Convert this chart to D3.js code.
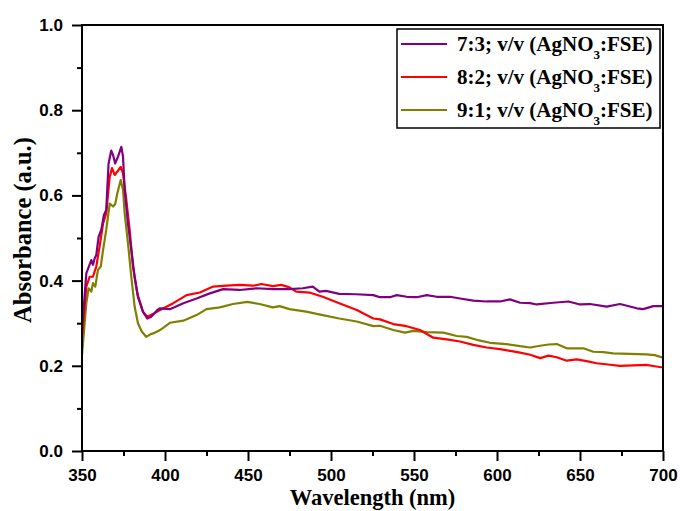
<!DOCTYPE html>
<html><head><meta charset="utf-8">
<script src="https://cdn.jsdelivr.net/npm/d3@7"></script>
<style>body{margin:0;background:#fff}svg{display:block}</style>
</head><body>
<svg id="chart" width="680" height="511"></svg>
<script>
// ---- data ----
const seriesNames = ["7:3; v/v (AgNO|3|:FSE)", "8:2; v/v (AgNO|3|:FSE)", "9:1; v/v (AgNO|3|:FSE)"];
const seriesColors = ["#800080", "#ff0000", "#808000"];

const wl73 = [350,352.6,355.6,356.6,357.6,358.6,360,361.6,363.2,364.6,366,367.6,368.7,370,371.7,373.7,374.7,375.7,377.7,379.7,381.7,383.7,386.7,389.3,391.7,395.4,397,403,411,419,427,435,445,455,465,475,483,489,493,497,505,515,525.5,529.5,535.5,539.6,545.6,551.6,557.7,563.7,571.7,577.7,585.7,593.8,601.8,607.8,613.9,619.9,623.9,633.9,643,650,656,666.1,674.1,684.2,688.1,694.2,700];
const abs73 = [0.284,0.417,0.448,0.437,0.452,0.46,0.503,0.519,0.554,0.566,0.675,0.705,0.695,0.675,0.691,0.714,0.691,0.613,0.534,0.472,0.409,0.362,0.327,0.311,0.315,0.331,0.335,0.333,0.347,0.358,0.370,0.380,0.378,0.382,0.380,0.380,0.382,0.386,0.374,0.376,0.369,0.368,0.366,0.361,0.361,0.366,0.362,0.361,0.366,0.362,0.362,0.358,0.353,0.351,0.351,0.356,0.348,0.347,0.344,0.348,0.351,0.344,0.345,0.339,0.345,0.335,0.333,0.340,0.340];

const wl82 = [350,352.6,354.6,356.6,358.6,360.6,362.7,364.6,366.7,368.1,369.7,371.3,373.3,374.7,376.7,378.7,380.7,383.3,386.7,389.3,393,397,405,413,421,429,437,445,453,458,465,470,475,479,487,495,505,515.5,525.5,529.5,537.5,545.6,553.6,561.6,569.7,577.7,585.7,593.8,601.8,608,613.9,620,626,631,636,642,648,654,660,667,674,682,690,695,700];
const abs82 = [0.265,0.386,0.409,0.409,0.433,0.480,0.534,0.558,0.644,0.664,0.648,0.656,0.667,0.652,0.589,0.519,0.433,0.370,0.327,0.315,0.322,0.331,0.347,0.366,0.372,0.386,0.388,0.390,0.388,0.392,0.387,0.390,0.384,0.374,0.372,0.362,0.347,0.331,0.311,0.309,0.298,0.293,0.284,0.266,0.262,0.257,0.249,0.243,0.239,0.235,0.231,0.226,0.218,0.224,0.220,0.212,0.215,0.211,0.206,0.203,0.200,0.201,0.202,0.199,0.196];

const wl91 = [350,352.6,354,355.6,356.6,358,359.6,361.3,362.7,364.6,366.7,368.7,370,371.3,373.3,374.7,375.7,377.7,379.7,381.7,383.7,386.1,388.7,391.7,393,397,403,411,419,425,433,441,449.6,457,465,469,475,485,495,505,515.5,525.5,529.5,537.5,544.6,549.6,557.7,567.7,575.7,581.7,587.8,595.8,605.8,613.9,619.9,626,631,636,642,652,658,664,670,680,690,695,700];
const abs91 = [0.225,0.347,0.382,0.374,0.394,0.386,0.425,0.433,0.472,0.519,0.581,0.574,0.580,0.605,0.636,0.613,0.558,0.488,0.409,0.339,0.300,0.280,0.268,0.275,0.276,0.284,0.301,0.306,0.319,0.333,0.337,0.345,0.350,0.345,0.337,0.340,0.333,0.327,0.319,0.311,0.304,0.293,0.294,0.284,0.278,0.282,0.279,0.278,0.270,0.268,0.261,0.254,0.251,0.246,0.243,0.247,0.250,0.251,0.241,0.241,0.233,0.232,0.229,0.228,0.227,0.225,0.219];

const xTicks = [350,400,450,500,550,600,650,700];
const yTicks = [0.0,0.2,0.4,0.6,0.8,1.0];
const xTitle = "Wavelength (nm)";
const yTitle = "Absorbance (a.u.)";

// ---- chart ----
const svg = d3.select("#chart");
const L = 82, R = 663, T = 25, B = 451;
const x = d3.scaleLinear().domain([350,700]).range([L,R]);
const y = d3.scaleLinear().domain([0,1]).range([B,T]);

const series = [[wl73,abs73],[wl82,abs82],[wl91,abs91]].map((s,i)=>({
  name: seriesNames[i], color: seriesColors[i],
  pts: s[0].map((w,j)=>[w,s[1][j]])
}));

svg.append("defs").append("clipPath").attr("id","clip")
  .append("rect").attr("x",L).attr("y",T).attr("width",R-L).attr("height",B-T);

const line = d3.line().x(d=>x(d[0])).y(d=>y(d[1]));
const gl = svg.append("g").attr("clip-path","url(#clip)");
[2,1,0].forEach(i=>{
  gl.append("path").attr("d",line(series[i].pts)).attr("fill","none")
    .attr("stroke",series[i].color).attr("stroke-width",2.2).attr("stroke-linejoin","round");
});

svg.append("rect").attr("x",L).attr("y",T).attr("width",R-L).attr("height",B-T)
  .attr("fill","none").attr("stroke","#000").attr("stroke-width",2);

const tickFont = "Liberation Sans, Arial, sans-serif";
const xAxis = d3.axisBottom(x).tickValues(xTicks).tickSize(10).tickPadding(8).tickFormat(d3.format("d"));
const gx = svg.append("g").attr("transform",`translate(0,${B})`).call(xAxis);
gx.select(".domain").remove();
gx.selectAll("line").attr("stroke","#000").attr("stroke-width",2);
gx.selectAll("text").attr("font-family",tickFont).attr("font-weight","bold").attr("font-size",17).attr("fill","#000");
const xMinor = d3.axisBottom(x).tickValues(d3.range(375,700,50)).tickSize(5).tickFormat("");
const gxm = svg.append("g").attr("transform",`translate(0,${B})`).call(xMinor);
gxm.select(".domain").remove();
gxm.selectAll("line").attr("stroke","#000").attr("stroke-width",2);

const yAxis = d3.axisLeft(y).tickValues(yTicks).tickSize(10).tickPadding(9).tickFormat(d3.format(".1f"));
const gy = svg.append("g").attr("transform",`translate(${L},0)`).call(yAxis);
gy.select(".domain").remove();
gy.selectAll("line").attr("stroke","#000").attr("stroke-width",2);
gy.selectAll("text").attr("font-family",tickFont).attr("font-weight","bold").attr("font-size",17).attr("fill","#000");
const yMinor = d3.axisLeft(y).tickValues([0.1,0.3,0.5,0.7,0.9]).tickSize(5).tickFormat("");
const gym = svg.append("g").attr("transform",`translate(${L},0)`).call(yMinor);
gym.select(".domain").remove();
gym.selectAll("line").attr("stroke","#000").attr("stroke-width",2);

const titleFont = "Liberation Serif, Times New Roman, serif";
svg.append("text").attr("x",(L+R)/2).attr("y",505).attr("text-anchor","middle")
  .attr("font-family",titleFont).attr("font-weight","bold").attr("font-size",22.5).text(xTitle);
svg.append("text").attr("transform",`translate(31,230) rotate(-90)`).attr("text-anchor","middle")
  .attr("font-family",titleFont).attr("font-weight","bold").attr("font-size",24.5).text(yTitle);

const lg = svg.append("g");
lg.append("rect").attr("x",397).attr("y",29).attr("width",263).attr("height",99)
  .attr("fill","#fff").attr("stroke","#000").attr("stroke-width",1.5);
series.forEach((s,i)=>{
  const ly = 44 + i*33;
  lg.append("line").attr("x1",401).attr("x2",447).attr("y1",ly).attr("y2",ly)
    .attr("stroke",s.color).attr("stroke-width",2.2);
  const parts = s.name.split("|");
  const t = lg.append("text").attr("x",457).attr("y",ly+7)
    .attr("font-family",titleFont).attr("font-weight","bold").attr("font-size",21).attr("fill","#000");
  t.append("tspan").text(parts[0]);
  t.append("tspan").attr("font-size",13).attr("dy",8).text(parts[1]);
  t.append("tspan").attr("dy",-8).text(parts[2]);
});
</script>
</body></html>
